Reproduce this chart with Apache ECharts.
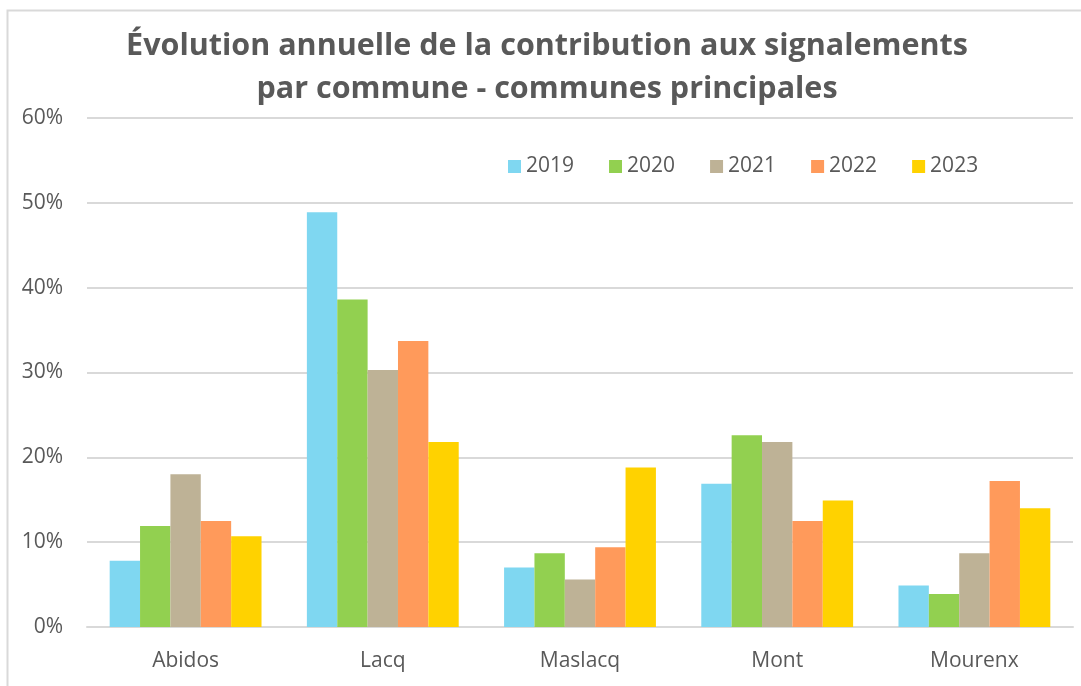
<!DOCTYPE html>
<html><head><meta charset="utf-8">
<script src="https://cdn.jsdelivr.net/npm/echarts@6/dist/echarts.min.js"></script>
<style>html,body{margin:0;padding:0;background:#fff}#c{width:1081px;height:686px}</style>
</head><body><div id="c"></div>
<script>
const categories = ['Abidos', 'Lacq', 'Maslacq', 'Mont', 'Mourenx'];
const years = ['2019', '2020', '2021', '2022', '2023'];
const v2019 = [7.8, 48.9, 7.0, 16.9, 4.9];
const v2020 = [11.9, 38.6, 8.7, 22.6, 3.9];
const v2021 = [18.0, 30.3, 5.6, 21.8, 8.7];
const v2022 = [12.5, 33.7, 9.4, 12.5, 17.2];
const v2023 = [10.7, 21.8, 18.8, 14.9, 14.0];
const yTicks = [0, 10, 20, 30, 40, 50, 60];
const colors = ['#7FD7F1', '#92D050', '#BEB296', '#FF9A5B', '#FFD200'];
const values = [v2019, v2020, v2021, v2022, v2023];
const font = '"Open Sans", "Noto Sans", sans-serif';
const chart = echarts.init(document.getElementById('c'), null, {renderer: 'canvas'});
chart.setOption({
  animation: false,
  color: colors,
  title: {
    text: 'Évolution annuelle de la contribution aux signalements\npar commune - communes principales',
    left: 542, textAlign: 'center', top: 20,
    textStyle: {fontFamily: font, fontSize: 30.5, fontWeight: 'bold', color: '#595959', lineHeight: 43}
  },
  graphic: [{type: 'rect', shape: {x: 7.5, y: 10.5, width: 1090, height: 700},
    style: {fill: null, stroke: '#D9D9D9', lineWidth: 2}, silent: true}],
  legend: {
    data: years, left: 503, top: 151, itemWidth: 13, itemHeight: 13, itemGap: 35,
    icon: 'rect', textStyle: {fontFamily: font, fontSize: 21, color: '#595959'}
  },
  grid: {left: 87, right: 8, top: 118, bottom: 59, containLabel: false},
  xAxis: {
    type: 'category', data: categories,
    axisLine: {lineStyle: {color: '#D9D9D9', width: 2}}, axisTick: {show: false},
    axisLabel: {fontFamily: font, fontSize: 21, color: '#595959', margin: 24}
  },
  yAxis: {
    type: 'value', min: yTicks[0], max: yTicks[yTicks.length - 1], interval: 10,
    axisLine: {show: false}, axisTick: {show: false},
    splitLine: {lineStyle: {color: '#D9D9D9', width: 2}},
    axisLabel: {fontFamily: font, fontSize: 21, color: '#595959', margin: 24,
      formatter: v => v + '%'}
  },
  series: years.map((y, i) => ({
    name: y, type: 'bar', data: values[i], barGap: '0%', barCategoryGap: '23%',
    itemStyle: {color: colors[i]}
  }))
});
</script></body></html>
